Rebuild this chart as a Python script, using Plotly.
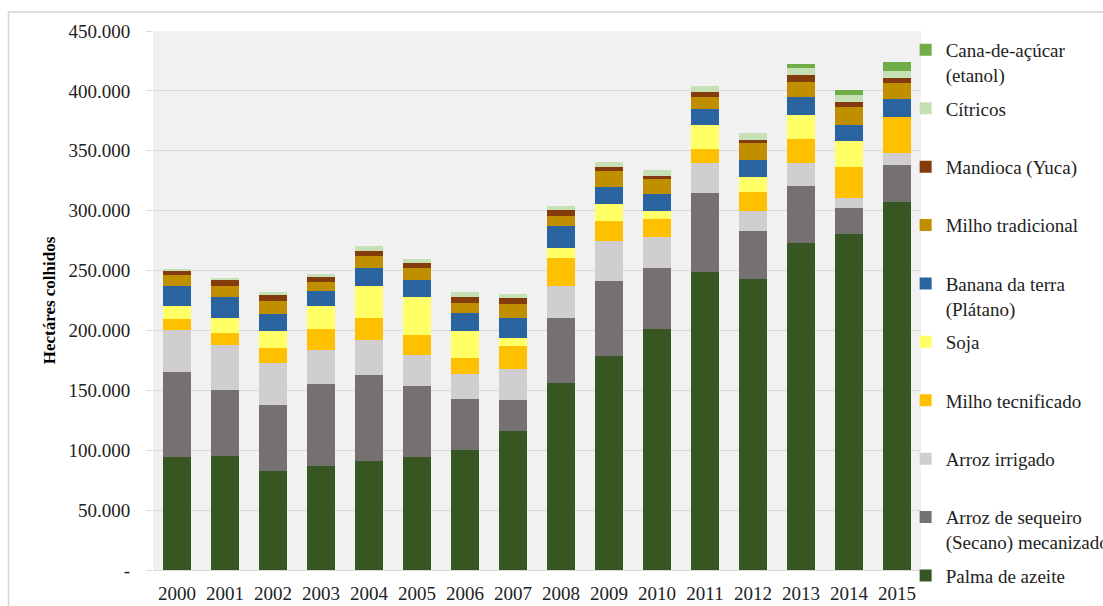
import plotly.graph_objects as go

years = [str(y) for y in range(2000, 2016)]

palma = [94400, 95200, 82800, 86900, 91100, 94200, 100000, 115800, 156400, 178600, 201100, 249200, 243100, 273100, 280600, 306900]
sequeiro = [71000, 54800, 55200, 68600, 71400, 59100, 42500, 25900, 54400, 63100, 51400, 65800, 40000, 47700, 21600, 31400]
irrigado = [34700, 38000, 34700, 27800, 29200, 25900, 20800, 26100, 26400, 32700, 25300, 24400, 16300, 18900, 8100, 10000]
milho_tec = [9400, 9800, 12500, 18100, 18900, 16600, 13400, 19400, 23100, 17300, 15000, 12300, 16400, 20300, 25800, 30000]
soja = [10600, 12800, 14000, 18600, 26600, 32000, 22500, 6400, 8600, 13900, 7200, 20000, 12500, 20000, 22200, 0]
banana = [17200, 17200, 14700, 13300, 15300, 14700, 15500, 17000, 18000, 13800, 13900, 13000, 13900, 15300, 13400, 14800]
milho_trad = [9200, 9400, 11100, 7500, 10000, 9400, 8600, 11100, 8600, 13900, 12200, 10600, 14200, 12500, 15000, 13300]
mandioca = [3600, 5300, 5000, 3600, 3600, 4800, 5000, 5000, 5100, 2800, 3100, 4100, 2800, 5300, 3900, 4700]
citricos = [1500, 1700, 2200, 2800, 4200, 2700, 3400, 3900, 3300, 4700, 5000, 4500, 5500, 5800, 6100, 5600]
cana = [0, 0, 0, 0, 0, 0, 0, 0, 0, 0, 0, 0, 0, 3400, 4400, 7500]

series_names = [
    "Palma de azeite",
    "Arroz de sequeiro<br>(Secano) mecanizado",
    "Arroz irrigado<br>&nbsp;",
    "Milho tecnificado<br>&nbsp;",
    "Soja<br>&nbsp;",
    "Banana da terra<br>(Plátano)",
    "Milho tradicional<br>&nbsp;",
    "Mandioca (Yuca)<br>&nbsp;",
    "Cítricos<br>&nbsp;",
    "Cana-de-açúcar<br>(etanol)",
]
series_values = [palma, sequeiro, irrigado, milho_tec, soja, banana, milho_trad, mandioca, citricos, cana]
series_colors = ["#375623", "#767171", "#D0CECE", "#FFC000", "#FFFF66",
                 "#2A64A0", "#BF8F00", "#843C0C", "#C5E0B4", "#70AD47"]

y_tickvals = [0, 50000, 100000, 150000, 200000, 250000, 300000, 350000, 400000, 450000]
y_ticktext = ["-", "50.000", "100.000", "150.000", "200.000", "250.000",
              "300.000", "350.000", "400.000", "450.000"]

FONT = "Liberation Serif, Times New Roman, serif"

fig = go.Figure()
n = len(series_names)
for i, (name, vals, col) in enumerate(zip(series_names, series_values, series_colors)):
    fig.add_trace(go.Bar(
        x=years, y=vals, name=name, marker=dict(color=col, line=dict(width=0)),
        legendgroup="g%d" % i, legendrank=n - i,
    ))

fig.update_layout(
    width=1103, height=606,
    barmode="stack", bargap=0.42,
    paper_bgcolor="white", plot_bgcolor="#F1F1F1",
    margin=dict(l=153, r=182, t=31, b=36, autoexpand=False),
    font=dict(family=FONT, size=19, color="#222222"),
    legend=dict(
        x=0.98, xanchor="left", y=1.0, yanchor="top", maxheight=2000,
        traceorder="grouped", tracegroupgap=6, valign="top",
        font=dict(family=FONT, size=19, color="#222222"),
        bgcolor="rgba(0,0,0,0)", borderwidth=0,
    ),
    xaxis=dict(
        type="category", showgrid=False, ticks="", ticklabelstandoff=6,
        showline=True, linecolor="#D9D9D9", linewidth=1,
        tickfont=dict(family=FONT, size=19, color="#222222"),
    ),
    yaxis=dict(
        range=[0, 450000], tickvals=y_tickvals, ticktext=y_ticktext,
        showgrid=True, gridcolor="#D9D9D9", gridwidth=1, zeroline=False,
        ticks="outside", ticklen=6, tickcolor="#D9D9D9", ticklabelstandoff=12,
        tickfont=dict(family=FONT, size=19, color="#222222"),
        title=dict(text="<b>Hectáres colhidos</b>", standoff=8,
                   font=dict(family=FONT, size=17, color="#000000")),
    ),
    shapes=[dict(
        type="rect", xref="paper", yref="paper",
        x0=-0.1882, x1=1.25, y0=-0.1, y1=1.0352,
        line=dict(color="#D4D4D4", width=1.5), fillcolor="rgba(0,0,0,0)", layer="below",
    )],
)

fig.write_html("out.html", config={"displayModeBar": False},
               post_script="document.body.style.margin='0px';document.body.style.overflow='hidden';")
